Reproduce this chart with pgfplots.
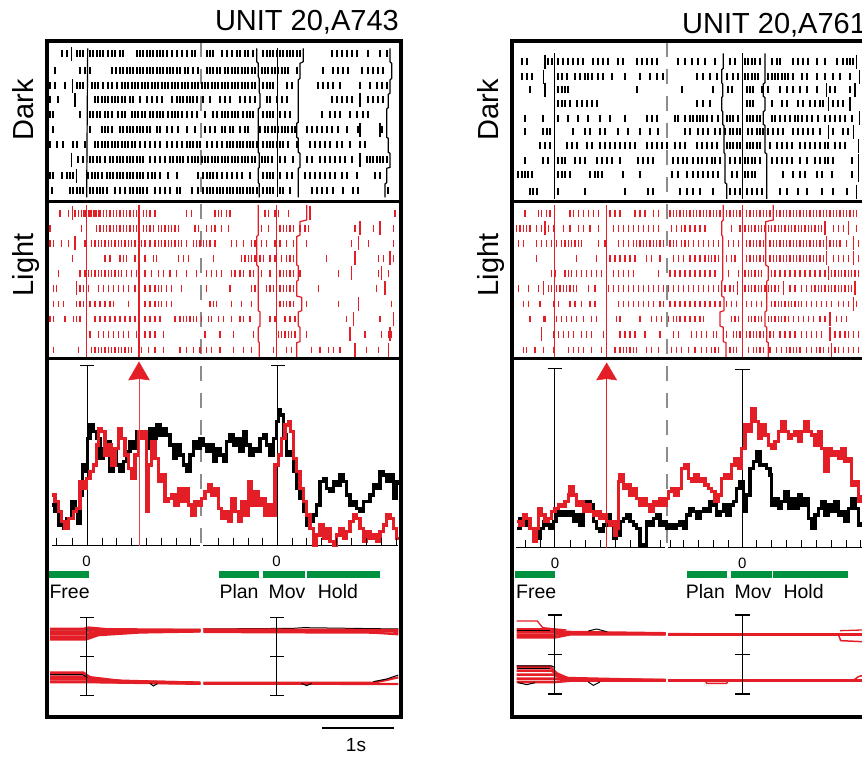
\documentclass[border=0pt]{standalone}
\usepackage{fontspec}
\setmainfont{Liberation Sans}
\usepackage{pgfplots}
\pgfplotsset{compat=1.18}
\definecolor{myred}{RGB}{228,30,38}
\definecolor{mygreen}{RGB}{0,146,63}
\definecolor{mygray}{RGB}{140,140,140}
\pgfplotsset{
 frm/.style n args={6}{at={(#1pt,#2pt)},anchor=south west,width=#3pt,height=#4pt,scale only axis,xmin=0,xmax=#5,ymin=0,ymax=#6,y dir=reverse,hide axis},
 spkB/.style={only marks,mark=|,mark size=3.5pt,mark options={black,line width=2pt}},
 spkR/.style={only marks,mark=|,mark size=3.4pt,mark options={myred,line width=1.6pt}},
 tallB/.style={only marks,mark=|,mark size=7pt,mark options={black,line width=1.2pt}},
 tallR/.style={only marks,mark=|,mark size=7pt,mark options={myred,line width=1.2pt}},
 evB/.style={black,line width=1.2pt},
 evR/.style={myred,line width=1.2pt},
 psB/.style={black,const plot,line width=3.6pt},
 psR/.style={myred,const plot,line width=3.4pt},
}
\newcommand{\srow}[3]{\addplot[#1] table[header=false,row sep=\\,x index=0,y expr=#2]{#3};}
\begin{document}
\begin{tikzpicture}
% ---------- master (background) ----------
\begin{axis}[frm={0}{0}{862}{757}{862}{757}]
\draw[mygray,line width=1.5pt,dash pattern=on 15pt off 12pt] (201,42)--(201,545);
\draw[mygray,line width=1.5pt,dash pattern=on 15pt off 12pt] (667,42)--(667,548);
\node[anchor=base east,inner sep=0pt,font=\fontsize{29}{32}\selectfont] at (399,31) {UNIT 20,A743};
\node[anchor=base west,inner sep=0pt,font=\fontsize{29}{32}\selectfont] at (682,34) {UNIT 20,A761};
\node[rotate=90,anchor=base,inner sep=0pt,font=\fontsize{29}{32}\selectfont] at (33,110) {Dark};
\node[rotate=90,anchor=base,inner sep=0pt,font=\fontsize{29}{32}\selectfont] at (33,265) {Light};
\node[rotate=90,anchor=base,inner sep=0pt,font=\fontsize{29}{32}\selectfont] at (498,110) {Dark};
\node[rotate=90,anchor=base,inner sep=0pt,font=\fontsize{29}{32}\selectfont] at (498,265) {Light};
\draw[line width=1.2pt] (322,728)--(394,728);
\node[font=\fontsize{19}{20}\selectfont] at (356,745) {1s};
\end{axis}

% ---------- left dark raster ----------
\begin{axis}[frm={40}{547}{370}{210}{1110}{630}]
\srow{spkB}{162}{65\\80\\110\\120\\130\\150\\160\\170\\180\\190\\205\\215\\225\\240\\250\\290\\300\\310\\320\\330\\340\\350\\360\\370\\380\\395\\410\\425\\440\\455\\465\\500\\510\\520\\545\\560\\575\\590\\600\\615\\625\\640\\670\\680\\690\\700\\710\\720\\730\\740\\750\\760\\770\\780\\875\\890\\905\\920\\935\\950\\985\\1020\\1040\\}
\srow{spkB}{212}{45\\120\\135\\150\\215\\228\\240\\250\\260\\270\\280\\290\\300\\310\\320\\330\\340\\350\\360\\370\\380\\390\\400\\410\\420\\435\\445\\460\\475\\500\\510\\520\\530\\540\\555\\565\\575\\585\\595\\605\\615\\625\\635\\645\\665\\675\\685\\695\\705\\715\\725\\735\\745\\770\\850\\880\\895\\910\\925\\965\\985\\1000\\1015\\1030\\}
\srow{spkB}{258}{30\\45\\75\\110\\120\\130\\155\\165\\175\\190\\205\\215\\230\\245\\255\\265\\275\\285\\295\\305\\315\\325\\335\\345\\355\\365\\375\\385\\395\\405\\415\\425\\435\\445\\455\\465\\475\\485\\495\\505\\515\\525\\535\\545\\555\\565\\575\\585\\595\\605\\615\\625\\635\\645\\670\\680\\690\\700\\740\\755\\835\\850\\865\\880\\900\\960\\990\\1010\\1025\\1040\\}
\srow{spkB}{300}{30\\55\\165\\175\\185\\195\\205\\215\\225\\235\\245\\255\\270\\280\\300\\320\\335\\350\\365\\395\\410\\420\\430\\440\\450\\460\\470\\490\\510\\540\\555\\570\\600\\615\\630\\645\\680\\690\\710\\725\\740\\875\\890\\905\\920\\935\\985\\1000\\1015\\1030\\}
\srow{spkB}{345}{30\\40\\120\\150\\160\\170\\180\\195\\205\\215\\235\\245\\255\\275\\285\\295\\305\\315\\330\\340\\350\\360\\370\\385\\395\\405\\415\\425\\440\\455\\470\\495\\520\\530\\545\\555\\565\\575\\585\\595\\610\\620\\630\\640\\670\\680\\690\\700\\720\\735\\750\\845\\870\\885\\900\\930\\950\\970\\985\\}
\srow{spkB}{390}{40\\150\\185\\195\\205\\215\\240\\250\\260\\270\\280\\290\\300\\310\\320\\330\\350\\360\\380\\395\\415\\440\\465\\495\\510\\525\\545\\555\\570\\580\\600\\615\\625\\660\\675\\685\\695\\705\\715\\725\\735\\745\\755\\765\\800\\815\\830\\845\\860\\875\\895\\920\\955\\1025\\}
\srow{spkB}{435}{30\\50\\70\\100\\110\\135\\165\\175\\185\\195\\205\\215\\225\\235\\245\\255\\265\\275\\285\\300\\315\\330\\345\\360\\380\\395\\410\\425\\440\\450\\460\\470\\480\\500\\515\\530\\545\\560\\570\\580\\590\\600\\610\\620\\630\\640\\650\\670\\680\\690\\700\\710\\720\\730\\745\\770\\810\\825\\840\\855\\870\\890\\905\\930\\960\\975\\}
\srow{spkB}{480}{115\\130\\150\\160\\170\\180\\195\\210\\220\\230\\240\\250\\260\\270\\280\\290\\300\\310\\330\\345\\360\\375\\390\\400\\410\\420\\430\\445\\455\\465\\475\\485\\495\\505\\515\\525\\535\\545\\555\\565\\575\\585\\595\\605\\615\\625\\635\\645\\665\\675\\685\\695\\720\\735\\760\\800\\815\\840\\855\\870\\885\\900\\915\\935\\980\\990\\1000\\1010\\1020\\1030\\1040\\}
\srow{spkB}{527}{30\\40\\65\\80\\90\\100\\145\\155\\165\\175\\185\\200\\210\\220\\230\\240\\250\\260\\270\\280\\290\\300\\310\\325\\335\\345\\360\\385\\410\\475\\490\\500\\510\\520\\530\\545\\560\\575\\590\\605\\630\\670\\680\\690\\700\\720\\740\\755\\795\\810\\825\\840\\855\\870\\885\\905\\920\\950\\1005\\1020\\}
\srow{spkB}{572}{35\\90\\100\\110\\120\\130\\150\\160\\170\\180\\190\\200\\225\\240\\255\\270\\280\\290\\300\\310\\320\\345\\360\\375\\390\\410\\420\\455\\475\\490\\500\\510\\520\\530\\540\\550\\560\\570\\580\\590\\600\\610\\620\\630\\640\\650\\670\\680\\690\\700\\720\\730\\750\\815\\830\\845\\860\\880\\910\\940\\955\\1045\\}
\addplot[tallB] coordinates {(95,162)(98,258)(105,300)(960,300)(960,390)(1020,390)(95,480)(960,480)(110,527)};
\addplot[evB] coordinates {(143,145)(140,592)};
\addplot[evB] coordinates {(650,145)(650,185)(655,190)(655,230)(658,237)(658,278)(660,282)(660,322)(655,327)(655,457)(658,460)(658,502)(655,505)(655,548)(658,552)(658,592)};
\addplot[evB] coordinates {(712,145)(712,592)};
\addplot[evB] coordinates {(790,145)(790,185)(780,190)(780,235)(775,240)(775,367)(770,370)(770,412)(775,415)(775,457)(780,460)(780,502)(775,505)(775,592)};
\addplot[evB] coordinates {(1050,145)(1050,185)(1055,190)(1055,235)(1050,240)(1050,280)(1045,283)(1045,322)(1040,327)(1040,412)(1045,415)(1045,457)(1050,460)(1050,502)(1040,505)(1040,548)(1035,552)(1035,592)};
\end{axis}

% ---------- left light raster ----------
\begin{axis}[frm={40}{397}{370}{160}{1110}{480}]
\srow{spkR}{40}{60\\85\\105\\115\\125\\130\\135\\145\\150\\155\\160\\165\\170\\175\\180\\190\\200\\210\\220\\230\\240\\250\\260\\270\\280\\290\\310\\320\\330\\345\\440\\455\\525\\535\\545\\560\\570\\675\\685\\705\\715\\745\\1065\\}
\srow{spkR}{85}{30\\125\\170\\180\\190\\200\\210\\220\\230\\240\\250\\260\\270\\280\\290\\310\\320\\330\\340\\355\\365\\375\\385\\395\\405\\415\\465\\475\\500\\515\\525\\545\\565\\665\\685\\720\\730\\740\\750\\760\\780\\795\\805\\945\\1000\\1060\\}
\srow{spkR}{130}{30\\40\\65\\85\\135\\155\\165\\175\\185\\195\\205\\215\\225\\235\\245\\255\\265\\275\\285\\305\\315\\330\\345\\355\\365\\375\\385\\395\\405\\415\\425\\440\\460\\470\\480\\490\\500\\510\\525\\575\\590\\610\\635\\645\\665\\680\\705\\720\\740\\760\\800\\935\\985\\1060\\}
\srow{spkR}{175}{97\\195\\210\\240\\250\\260\\285\\315\\340\\350\\415\\430\\445\\520\\605\\615\\625\\635\\645\\660\\670\\690\\705\\725\\740\\750\\760\\860\\1015\\1030\\1060\\}
\srow{spkR}{220}{55\\120\\135\\145\\155\\165\\175\\185\\195\\205\\215\\225\\235\\245\\260\\275\\290\\315\\335\\355\\370\\390\\410\\440\\470\\500\\515\\530\\545\\575\\585\\600\\610\\630\\640\\665\\690\\720\\730\\740\\750\\760\\780\\895\\1015\\1045\\}
\srow{spkR}{265}{40\\50\\120\\130\\145\\175\\190\\205\\220\\235\\250\\265\\285\\315\\330\\345\\355\\365\\380\\395\\425\\500\\570\\635\\645\\680\\690\\700\\720\\730\\740\\750\\760\\835\\1010\\}
\srow{spkR}{312}{40\\55\\70\\110\\120\\130\\150\\165\\180\\195\\210\\220\\265\\315\\330\\345\\355\\365\\380\\395\\510\\520\\530\\575\\605\\635\\720\\730\\740\\750\\760\\800\\895\\1055\\}
\srow{spkR}{357}{30\\40\\75\\100\\110\\120\\165\\180\\195\\210\\225\\240\\255\\270\\285\\315\\330\\345\\360\\405\\420\\430\\440\\450\\460\\470\\485\\505\\515\\535\\550\\575\\600\\610\\630\\690\\705\\735\\750\\765\\920\\1020\\}
\srow{spkR}{403}{150\\175\\190\\205\\220\\235\\250\\265\\290\\315\\330\\345\\370\\495\\540\\580\\640\\715\\725\\735\\745\\755\\765\\800\\975\\1025\\1045\\1055\\}
\srow{spkR}{450}{40\\115\\155\\165\\175\\185\\195\\205\\215\\225\\235\\245\\255\\265\\275\\305\\325\\345\\370\\420\\440\\460\\480\\500\\515\\540\\580\\610\\635\\700\\740\\755\\815\\840\\865\\880\\900\\980\\1015\\}
\addplot[tallR] coordinates {(97,40)(810,40)(960,85)(1020,85)(105,130)(955,130)(945,175)(1050,175)(935,220)(1025,220)(110,265)(1035,265)(955,312)(940,357)(1060,357)(930,403)(1050,403)(945,450)(1045,450)};
\addplot[evR] coordinates {(140,15)(140,472)};
\addplot[evR] coordinates {(297,15)(297,472)};
\addplot[evR] coordinates {(655,15)(655,105)(650,110)(650,195)(655,200)(655,332)(660,336)(660,378)(655,382)(655,425)(658,428)(658,472)};
\addplot[evR] coordinates {(710,15)(710,472)};
\addplot[evR] coordinates {(800,15)(800,60)(780,65)(780,105)(770,110)(770,195)(775,198)(775,240)(770,244)(770,288)(785,292)(785,332)(775,336)(775,378)(780,382)(780,425)(770,428)(770,472)};
\end{axis}

% ---------- left PSTH ----------
\begin{axis}[frm={40}{202}{370}{200}{1110}{600}]
\addplot[black,line width=1pt] coordinates {(35,572)(481,572)};
\addplot[black,line width=1pt] coordinates {(490,572)(1075,572)};
\addplot[only marks,mark=|,mark size=4pt,mark options={black,line width=0.9pt}] coordinates {(50,560)(97,560)(142,560)(186,560)(230,560)(275,560)(320,560)(363,560)(408,560)(452,560)(535,560)(580,560)(624,560)(668,560)(712,560)(756,560)(800,560)(845,560)(890,560)(935,560)(980,560)(1025,560)(1070,560)};
\addplot[black,line width=1pt] coordinates {(142,33)(142,572)};
\addplot[black,line width=1pt] coordinates {(120,33)(162,33)};
\addplot[black,line width=1pt] coordinates {(712,33)(712,572)};
\addplot[black,line width=1pt] coordinates {(693,33)(735,33)};
\addplot[psB] coordinates {(35,450)(45,470)(55,510)(70,520)(80,490)(95,440)(105,460)(112,505)(120,420)(127,330)(135,350)(142,250)(150,210)(160,230)(170,250)(180,310)(190,280)(200,260)(210,350)(220,280)(230,330)(240,350)(250,320)(260,290)(270,260)(280,280)(290,230)(300,240)(310,250)(320,280)(330,220)(340,250)(350,210)(360,240)(370,220)(380,240)(390,270)(400,310)(410,270)(420,300)(430,330)(440,350)(450,300)(460,260)(470,280)(480,250)(490,270)(500,290)(510,270)(520,320)(530,280)(540,300)(550,320)(560,260)(570,240)(580,270)(590,250)(600,290)(610,230)(620,270)(630,300)(640,280)(650,290)(660,250)(670,240)(680,270)(690,300)(700,250)(710,200)(715,165)(722,180)(730,240)(740,300)(750,290)(760,350)(770,400)(780,430)(790,470)(800,510)(810,500)(820,480)(830,450)(840,380)(850,370)(860,400)(870,410)(880,380)(890,390)(900,360)(910,380)(920,420)(930,450)(940,440)(950,460)(960,470)(970,440)(980,440)(990,420)(1000,390)(1010,400)(1020,350)(1030,360)(1040,380)(1050,360)(1060,430)(1070,380)(1078,390)};
\addplot[psR] coordinates {(35,420)(45,440)(55,470)(65,500)(75,520)(85,490)(100,470)(110,460)(120,380)(130,400)(140,370)(150,350)(160,330)(170,270)(175,220)(185,230)(195,300)(205,270)(215,330)(225,280)(235,220)(245,250)(255,300)(265,340)(275,370)(285,300)(295,230)(305,250)(315,230)(320,470)(325,330)(335,260)(345,310)(355,380)(365,360)(375,440)(385,430)(395,420)(405,450)(415,400)(425,440)(435,400)(445,450)(455,480)(465,440)(475,450)(485,430)(495,410)(505,390)(515,420)(525,400)(535,460)(545,490)(555,470)(565,500)(575,430)(585,470)(595,500)(605,440)(615,480)(625,380)(635,450)(645,410)(655,450)(665,430)(675,480)(685,450)(695,480)(705,330)(715,300)(725,250)(735,210)(745,200)(752,230)(760,310)(770,350)(780,400)(790,440)(800,480)(810,520)(820,570)(830,540)(840,510)(850,550)(860,520)(870,560)(880,570)(890,540)(900,520)(910,550)(920,530)(930,500)(940,480)(950,490)(960,520)(970,560)(980,530)(990,550)(1000,540)(1010,560)(1020,530)(1030,510)(1040,480)(1050,490)(1060,520)(1070,550)(1078,545)};
\addplot[myred!85,line width=0.9pt] coordinates {(297,65)(297,572)};
\addplot[fill=myred,draw=myred,line width=0.5pt] coordinates {(297,21)(328,75)(297,71)(266,75)} --cycle;
\end{axis}

% ---------- left bottom ----------
\begin{axis}[frm={40}{0}{370}{217}{1110}{651}]
\node[font=\fontsize{15}{16}\selectfont] at (140,64) {0};
\node[font=\fontsize{15}{16}\selectfont] at (710,64) {0};
\addplot[mygreen,line width=7.5pt] coordinates {(25,103)(147,103)};
\addplot[mygreen,line width=7.5pt] coordinates {(537,103)(657,103)};
\addplot[mygreen,line width=7.5pt] coordinates {(670,103)(796,103)};
\addplot[mygreen,line width=7.5pt] coordinates {(800,103)(1020,103)};
\node[anchor=base west,inner sep=0pt,font=\fontsize{19.5}{20}\selectfont] at (28,175) {Free};
\node[anchor=base west,inner sep=0pt,font=\fontsize{19.5}{20}\selectfont] at (538,175) {Plan};
\node[anchor=base west,inner sep=0pt,font=\fontsize{19.5}{20}\selectfont] at (685,175) {Mov};
\node[anchor=base west,inner sep=0pt,font=\fontsize{19.5}{20}\selectfont] at (833,175) {Hold};
\addplot[black,line width=1pt] coordinates {(30,270)(140,270)(481,268)};
\addplot[black,line width=1pt] coordinates {(490,267)(760,265)(790,263)(1075,267)};
\addplot[myred,line width=2.6pt] coordinates {(30,267)(130,267)(145,263)(200,268)(481,270)};
\addplot[myred,line width=2.6pt] coordinates {(30,275)(135,275)(160,271)(481,271)};
\addplot[myred,line width=2.6pt] coordinates {(30,283)(135,283)(165,277)(300,273)(481,272)};
\addplot[myred,line width=2.6pt] coordinates {(30,291)(138,291)(170,281)(300,275)(481,273)};
\addplot[myred,line width=2.6pt] coordinates {(30,298)(138,298)(175,285)(300,277)(481,274)};
\addplot[myred,line width=2.2pt] coordinates {(490,268)(1075,270)};
\addplot[myred,line width=2.2pt] coordinates {(490,273)(1075,275)};
\addplot[myred,line width=2.2pt] coordinates {(490,276)(1000,278)(1075,283)};
\addplot[myred,line width=2.6pt] coordinates {(30,398)(130,398)(150,412)(250,424)(481,428)};
\addplot[myred,line width=2.6pt] coordinates {(30,410)(135,410)(155,420)(481,429)};
\addplot[myred,line width=2.6pt] coordinates {(30,418)(138,418)(160,425)(481,430)};
\addplot[myred,line width=2.6pt] coordinates {(30,426)(140,426)(481,431)};
\addplot[black,line width=1pt] coordinates {(30,404)(128,404)(142,412)};
\addplot[black,line width=1pt] coordinates {(330,430)(340,438)(352,431)};
\addplot[myred,line width=2.2pt] coordinates {(490,428)(1000,428)(1040,420)(1075,412)};
\addplot[myred,line width=2.2pt] coordinates {(490,431)(1075,432)};
\addplot[black,line width=1pt] coordinates {(785,430)(800,437)(815,430)};
\addplot[black,line width=1pt] coordinates {(1000,425)(1040,417)(1075,405)};
\addplot[black,line width=1.1pt] coordinates {(140,232)(140,467)};
\addplot[black,line width=1.1pt] coordinates {(120,232)(162,232)};
\addplot[black,line width=1.1pt] coordinates {(120,350)(162,350)};
\addplot[black,line width=1.1pt] coordinates {(120,467)(162,467)};
\addplot[black,line width=1.1pt] coordinates {(710,232)(710,467)};
\addplot[black,line width=1.1pt] coordinates {(690,232)(733,232)};
\addplot[black,line width=1.1pt] coordinates {(690,350)(733,350)};
\addplot[black,line width=1.1pt] coordinates {(690,467)(733,467)};
\end{axis}

% ---------- right dark raster ----------
\begin{axis}[frm={500}{547}{362}{210}{1086}{630}]
\srow{spkB}{185}{65\\80\\145\\155\\175\\190\\205\\220\\235\\250\\280\\295\\310\\325\\355\\370\\410\\425\\440\\455\\470\\535\\555\\575\\595\\615\\645\\690\\705\\735\\745\\755\\765\\780\\815\\830\\840\\880\\895\\910\\925\\950\\975\\1010\\1030\\1040\\1050\\1060\\}
\srow{spkB}{230}{65\\80\\95\\175\\185\\200\\225\\240\\255\\265\\275\\295\\310\\335\\375\\420\\450\\470\\490\\590\\610\\630\\650\\680\\700\\715\\735\\745\\755\\765\\775\\805\\815\\825\\835\\845\\855\\865\\880\\905\\920\\950\\975\\1000\\1020\\1050\\}
\srow{spkB}{270}{90\\175\\185\\195\\205\\410\\545\\640\\685\\695\\740\\750\\760\\785\\805\\840\\860\\880\\900\\920\\950\\990\\1005\\1050\\}
\srow{spkB}{312}{175\\185\\195\\210\\230\\245\\260\\275\\290\\590\\610\\630\\740\\750\\760\\815\\845\\860\\895\\910\\930\\945\\960\\970\\1000\\1015\\1030\\}
\srow{spkB}{355}{75\\130\\175\\205\\235\\265\\300\\330\\375\\440\\455\\470\\525\\535\\555\\570\\580\\590\\600\\610\\620\\635\\655\\680\\690\\700\\715\\740\\750\\760\\770\\780\\815\\825\\840\\855\\870\\885\\895\\905\\920\\935\\955\\975\\990\\1005\\1020\\1035\\1055\\}
\srow{spkB}{395}{75\\130\\140\\150\\220\\255\\270\\300\\315\\355\\385\\420\\450\\475\\555\\570\\595\\610\\625\\645\\660\\675\\690\\700\\710\\720\\745\\755\\770\\780\\790\\805\\820\\835\\850\\880\\895\\910\\925\\940\\960\\1000\\1030\\1045\\}
\srow{spkB}{438}{120\\135\\150\\200\\215\\230\\260\\275\\300\\315\\330\\345\\360\\375\\390\\405\\440\\455\\470\\485\\500\\525\\540\\555\\590\\605\\620\\635\\650\\680\\690\\700\\710\\720\\740\\750\\760\\770\\780\\810\\830\\845\\860\\875\\900\\915\\930\\945\\960\\975\\985\\1005\\1020\\1035\\}
\srow{spkB}{482}{75\\130\\145\\175\\185\\195\\225\\240\\255\\290\\305\\320\\335\\360\\415\\430\\445\\460\\520\\535\\550\\560\\580\\595\\605\\620\\635\\645\\660\\690\\705\\720\\735\\745\\755\\765\\780\\815\\830\\845\\860\\875\\900\\920\\945\\960\\975\\985\\1000\\1055\\}
\srow{spkB}{525}{55\\65\\75\\85\\95\\175\\185\\195\\210\\270\\285\\295\\305\\370\\420\\515\\535\\560\\580\\595\\610\\625\\640\\655\\695\\710\\735\\745\\755\\765\\850\\880\\900\\915\\950\\965\\995\\1055\\}
\srow{spkB}{575}{90\\100\\110\\175\\255\\375\\445\\460\\540\\560\\580\\600\\640\\690\\705\\720\\740\\755\\770\\785\\840\\860\\895\\920\\965\\1000\\1040\\}
\addplot[tallB] coordinates {(135,185)(1070,185)(130,230)(1078,230)(135,270)(980,270)(1065,270)(985,312)(1050,312)(1078,355)(985,395)(1060,395)(1075,438)(1075,482)(1075,525)(1070,575)};
\addplot[evB] coordinates {(163,160)(163,597)};
\addplot[evB] coordinates {(670,160)(670,205)(665,209)(665,248)(668,252)(668,289)(665,293)(665,331)(668,335)(668,373)(672,377)(672,458)(675,462)(675,548)(680,552)(680,597)};
\addplot[evB] coordinates {(727,160)(727,597)};
\addplot[evB] coordinates {(795,160)(795,248)(790,252)(790,289)(795,293)(795,331)(790,335)(790,373)(795,377)(795,458)(800,462)(800,597)};
\end{axis}

% ---------- right light raster ----------
\begin{axis}[frm={500}{397}{362}{160}{1086}{480}]
\srow{spkR}{40}{75\\115\\125\\140\\150\\210\\220\\235\\250\\265\\280\\295\\330\\345\\360\\405\\420\\435\\460\\475\\510\\520\\530\\540\\550\\560\\570\\580\\590\\600\\610\\620\\630\\640\\650\\660\\680\\690\\700\\710\\720\\740\\750\\760\\770\\780\\790\\800\\810\\830\\840\\850\\860\\870\\880\\890\\900\\910\\920\\930\\940\\950\\960\\970\\980\\990\\1000\\1010\\1020\\1030\\1040\\1050\\1060\\1070\\}
\srow{spkR}{85}{50\\60\\70\\80\\90\\110\\125\\145\\160\\190\\210\\235\\250\\270\\295\\340\\355\\370\\385\\400\\415\\430\\445\\460\\475\\515\\530\\545\\555\\570\\585\\600\\615\\695\\720\\735\\745\\755\\765\\775\\785\\795\\805\\815\\825\\835\\845\\855\\865\\875\\885\\895\\905\\915\\925\\935\\945\\955\\965\\1000\\1015\\1030\\1070\\}
\srow{spkR}{130}{55\\70\\110\\125\\140\\155\\170\\185\\195\\205\\215\\225\\235\\245\\295\\315\\355\\370\\385\\400\\410\\420\\430\\440\\450\\460\\470\\480\\490\\510\\520\\530\\545\\555\\565\\580\\595\\610\\625\\640\\655\\685\\700\\715\\740\\750\\760\\770\\780\\790\\810\\820\\830\\840\\850\\860\\870\\880\\890\\900\\910\\920\\930\\940\\950\\960\\970\\990\\1000\\1010\\1020\\1040\\1075\\}
\srow{spkR}{175}{110\\230\\290\\330\\345\\360\\375\\390\\405\\440\\455\\480\\520\\535\\550\\570\\585\\600\\615\\625\\635\\645\\655\\680\\695\\705\\740\\750\\760\\770\\780\\790\\810\\820\\830\\840\\850\\860\\870\\880\\890\\900\\910\\920\\930\\940\\950\\960\\970\\1000\\1015\\1030\\1045\\1075\\}
\srow{spkR}{220}{155\\165\\195\\205\\215\\230\\245\\260\\275\\290\\305\\320\\340\\355\\370\\385\\400\\475\\510\\525\\540\\555\\570\\585\\600\\615\\630\\645\\685\\715\\735\\745\\755\\765\\775\\785\\815\\825\\840\\855\\870\\885\\900\\915\\930\\945\\960\\975\\995\\1005\\1015\\1025\\1035\\1045\\1055\\1065\\1075\\}
\srow{spkR}{265}{55\\85\\115\\145\\155\\170\\180\\190\\200\\210\\220\\230\\265\\285\\325\\340\\355\\370\\385\\400\\415\\430\\445\\460\\475\\490\\505\\520\\535\\550\\565\\580\\595\\610\\625\\640\\655\\675\\690\\700\\735\\745\\755\\765\\775\\785\\795\\805\\815\\825\\835\\870\\885\\905\\920\\935\\945\\955\\965\\975\\985\\995\\1005\\1015\\1025\\1035\\1045\\1055\\}
\srow{spkR}{312}{70\\85\\120\\160\\175\\210\\225\\245\\270\\285\\355\\370\\385\\400\\415\\430\\445\\460\\480\\490\\510\\525\\540\\555\\570\\585\\600\\615\\630\\645\\660\\680\\695\\710\\740\\755\\770\\785\\815\\825\\835\\845\\855\\865\\875\\885\\895\\905\\920\\935\\950\\965\\980\\995\\1015\\1030\\1045\\1070\\}
\srow{spkR}{357}{90\\130\\135\\170\\185\\200\\215\\230\\250\\275\\290\\350\\360\\420\\455\\470\\485\\505\\520\\530\\540\\555\\570\\585\\600\\610\\695\\705\\715\\745\\755\\765\\775\\785\\805\\815\\825\\835\\845\\855\\865\\880\\895\\910\\925\\940\\960\\975\\1010\\1025\\1040\\}
\srow{spkR}{403}{160\\175\\190\\205\\220\\245\\260\\275\\310\\360\\375\\390\\405\\435\\480\\520\\535\\575\\590\\605\\620\\640\\650\\680\\700\\710\\720\\740\\750\\760\\770\\780\\790\\810\\820\\840\\855\\870\\885\\905\\920\\935\\950\\965\\1005\\1020\\1035\\1045\\1060\\1075\\}
\srow{spkR}{450}{70\\80\\105\\130\\160\\205\\220\\235\\250\\275\\305\\345\\360\\370\\380\\390\\400\\410\\440\\455\\475\\515\\530\\545\\565\\585\\605\\620\\635\\645\\655\\690\\700\\710\\745\\760\\770\\780\\790\\810\\830\\845\\860\\870\\880\\890\\900\\920\\935\\950\\960\\970\\985\\1005\\1015\\1030\\1045\\1060\\1075\\}
\addplot[tallR] coordinates {(820,40)(135,85)(975,85)(1045,85)(980,130)(1060,130)(980,175)(1060,175)(985,220)(130,265)(712,265)(850,265)(1065,265)(1060,312)(990,357)(125,403)(990,403)(995,450)};
\addplot[evR] coordinates {(163,15)(163,472)};
\addplot[evR] coordinates {(320,15)(320,472)};
\addplot[evR] coordinates {(670,15)(670,60)(665,65)(665,105)(668,110)(668,240)(665,244)(665,288)(672,292)(672,332)(660,336)(660,378)(670,382)(670,425)(678,428)(678,472)};
\addplot[evR] coordinates {(727,15)(727,472)};
\addplot[evR] coordinates {(820,15)(820,60)(797,65)(797,195)(805,200)(805,240)(800,244)(800,332)(795,336)(795,378)(800,382)(800,425)(805,428)(805,472)};
\end{axis}

% ---------- right PSTH ----------
\begin{axis}[frm={500}{202}{362}{200}{1086}{600}]
\addplot[black,line width=1pt] coordinates {(48,578)(495,578)};
\addplot[black,line width=1pt] coordinates {(505,578)(1086,578)};
\addplot[only marks,mark=|,mark size=3.8pt,mark options={black,line width=0.9pt}] coordinates {(75,566)(120,566)(163,566)(210,566)(255,566)(300,566)(345,566)(390,566)(435,566)(480,566)(510,566)(550,566)(595,566)(640,566)(685,566)(727,566)(770,566)(815,566)(860,566)(905,566)(950,566)(995,566)(1040,566)(1080,566)};
\addplot[black,line width=1pt] coordinates {(163,42)(163,578)};
\addplot[black,line width=1pt] coordinates {(143,42)(187,42)};
\addplot[black,line width=1pt] coordinates {(727,45)(727,578)};
\addplot[black,line width=1pt] coordinates {(705,45)(750,45)};
\addplot[psB] coordinates {(50,520)(60,490)(70,510)(80,500)(90,520)(100,540)(110,550)(120,520)(130,500)(140,510)(150,520)(160,500)(170,470)(180,480)(190,470)(200,480)(210,470)(220,500)(230,480)(240,510)(250,470)(260,440)(270,450)(280,500)(290,520)(300,530)(310,510)(320,480)(330,500)(340,550)(350,540)(360,500)(370,490)(380,480)(390,500)(400,510)(410,520)(420,570)(430,575)(440,500)(450,510)(460,490)(470,480)(480,510)(490,500)(500,520)(510,510)(520,520)(530,510)(540,500)(550,520)(560,480)(570,460)(580,470)(590,490)(600,470)(610,460)(620,470)(630,440)(640,450)(650,480)(660,470)(670,450)(680,480)(690,450)(700,440)(710,400)(720,380)(730,470)(740,420)(750,340)(760,320)(770,290)(780,330)(790,330)(800,340)(810,360)(815,450)(825,430)(835,460)(845,440)(855,410)(865,460)(875,430)(885,460)(895,420)(905,450)(915,430)(925,490)(935,520)(945,480)(955,460)(965,440)(975,480)(985,450)(995,470)(1005,440)(1015,480)(1025,470)(1035,500)(1045,460)(1055,430)(1065,460)(1075,510)(1086,500)};
\addplot[psR] coordinates {(50,500)(60,510)(70,480)(80,490)(90,520)(100,560)(110,520)(115,460)(125,480)(135,500)(145,490)(155,470)(165,460)(175,450)(185,455)(195,440)(205,420)(210,395)(220,420)(230,450)(240,440)(250,470)(260,450)(270,470)(280,480)(290,470)(300,490)(310,480)(320,500)(330,510)(340,500)(345,540)(350,520)(355,380)(360,360)(370,400)(380,390)(390,420)(400,400)(410,430)(420,450)(430,430)(440,450)(450,470)(460,440)(470,450)(480,430)(490,450)(500,430)(505,410)(515,400)(525,420)(535,400)(545,340)(555,330)(565,370)(575,380)(585,360)(595,380)(605,370)(615,390)(625,400)(635,410)(645,440)(655,420)(665,370)(675,360)(685,370)(695,330)(705,310)(715,340)(725,280)(735,210)(745,230)(755,160)(765,200)(775,250)(785,210)(795,240)(805,270)(815,280)(825,260)(835,230)(845,200)(855,230)(865,250)(875,240)(885,230)(895,260)(905,230)(915,200)(925,230)(935,240)(945,270)(955,230)(965,280)(975,350)(985,280)(995,300)(1005,290)(1015,310)(1025,280)(1035,320)(1045,310)(1055,390)(1065,380)(1075,440)(1086,420)};
\addplot[myred,line width=0.9pt] coordinates {(320,65)(320,578)};
\addplot[fill=myred,draw=myred,line width=0.5pt] coordinates {(320,24)(350,75)(320,71)(290,75)} --cycle;
\end{axis}

% ---------- right bottom ----------
\begin{axis}[frm={500}{0}{362}{217}{1086}{651}]
\node[font=\fontsize{15}{16}\selectfont] at (165,71) {0};
\node[font=\fontsize{15}{16}\selectfont] at (727,71) {0};
\addplot[mygreen,line width=7.5pt] coordinates {(45,104)(165,104)};
\addplot[mygreen,line width=7.5pt] coordinates {(560,104)(680,104)};
\addplot[mygreen,line width=7.5pt] coordinates {(693,104)(817,104)};
\addplot[mygreen,line width=7.5pt] coordinates {(820,104)(1043,104)};
\node[anchor=base west,inner sep=0pt,font=\fontsize{19.5}{20}\selectfont] at (48,176) {Free};
\node[anchor=base west,inner sep=0pt,font=\fontsize{19.5}{20}\selectfont] at (557,176) {Plan};
\node[anchor=base west,inner sep=0pt,font=\fontsize{19.5}{20}\selectfont] at (703,176) {Mov};
\node[anchor=base west,inner sep=0pt,font=\fontsize{19.5}{20}\selectfont] at (850,176) {Hold};
\addplot[myred,line width=1.3pt] coordinates {(50,243)(112,243)(128,263)(200,270)};
\addplot[myred,line width=2.6pt] coordinates {(50,268)(150,268)(200,276)(497,280)};
\addplot[myred,line width=2.6pt] coordinates {(50,276)(160,276)(200,279)(497,281)};
\addplot[myred,line width=2.6pt] coordinates {(50,284)(160,284)(205,281)(497,282)};
\addplot[myred,line width=2.6pt] coordinates {(50,292)(165,292)(210,283)(497,283)};
\addplot[black,line width=1pt] coordinates {(50,272)(150,272)};
\addplot[black,line width=1pt] coordinates {(265,273)(290,267)(320,275)};
\addplot[myred,line width=1.5pt] coordinates {(505,281)(1015,283)(1022,302)(1086,305)};
\addplot[myred,line width=2.5pt] coordinates {(505,283)(1086,283)};
\addplot[myred,line width=1.3pt] coordinates {(1020,272)(1086,270)};
\addplot[myred,line width=2.6pt] coordinates {(50,380)(150,380)(170,400)(210,418)(497,420)};
\addplot[myred,line width=2.6pt] coordinates {(50,392)(155,392)(180,408)(220,419)(497,421)};
\addplot[myred,line width=2.6pt] coordinates {(50,404)(160,404)(190,414)(497,421)};
\addplot[myred,line width=2.6pt] coordinates {(50,416)(165,416)(497,422)};
\addplot[myred,line width=2.6pt] coordinates {(50,426)(165,426)(210,422)(497,422)};
\addplot[black,line width=1pt] coordinates {(50,378)(155,378)(165,383)};
\addplot[black,line width=1pt] coordinates {(50,386)(150,386)};
\addplot[black,line width=1pt] coordinates {(55,428)(80,434)(105,428)};
\addplot[black,line width=1pt] coordinates {(265,426)(280,436)(300,426)};
\addplot[myred,line width=1.5pt] coordinates {(505,420)(615,420)(620,430)(680,430)(685,421)(1060,421)(1075,410)(1086,407)};
\addplot[myred,line width=2.5pt] coordinates {(505,422)(1086,422)};
\addplot[black,line width=1.1pt] coordinates {(163,225)(163,462)};
\addplot[black,line width=1.1pt] coordinates {(143,225)(187,225)};
\addplot[black,line width=1.1pt] coordinates {(143,343)(187,343)};
\addplot[black,line width=1.1pt] coordinates {(143,462)(187,462)};
\addplot[black,line width=1.1pt] coordinates {(727,225)(727,462)};
\addplot[black,line width=1.1pt] coordinates {(705,225)(750,225)};
\addplot[black,line width=1.1pt] coordinates {(705,343)(750,343)};
\addplot[black,line width=1.1pt] coordinates {(705,462)(750,462)};
\end{axis}

% ---------- master (frames) ----------
\begin{axis}[frm={0}{0}{862}{757}{862}{757}]
\draw[line width=3.5pt] (47,41) rectangle (401,717);
\draw[line width=3pt] (47,202)--(401,202);
\draw[line width=3pt] (47,358)--(401,358);
\draw[line width=3.5pt] (512,41) rectangle (866,717);
\draw[line width=3pt] (512,202)--(866,202);
\draw[line width=3pt] (512,358)--(866,358);
\end{axis}
\pgfresetboundingbox
\path (0pt,0pt) rectangle (862pt,757pt);
\end{tikzpicture}
\end{document}
